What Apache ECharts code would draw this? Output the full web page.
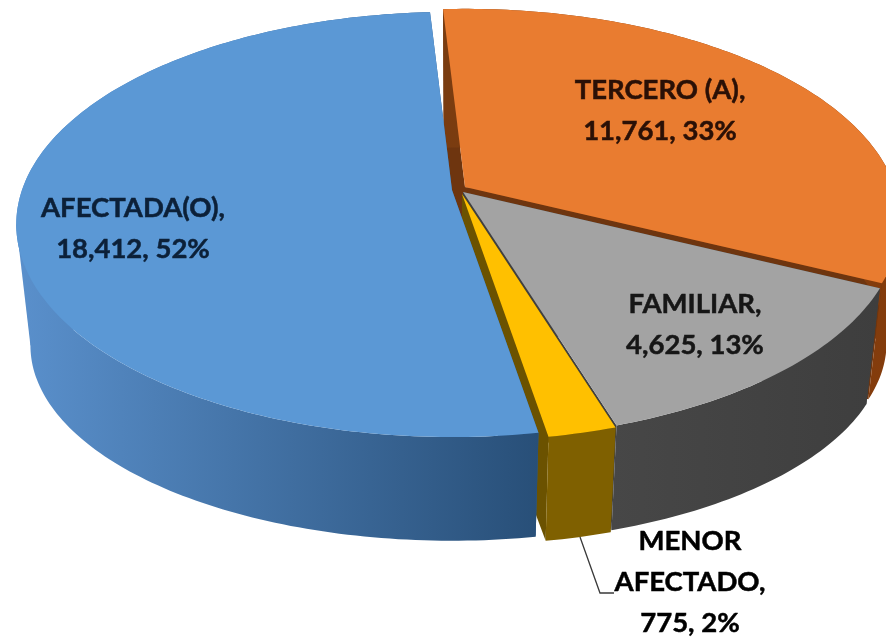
<!DOCTYPE html>
<html>
<head>
<meta charset="utf-8">
<style>html,body{margin:0;background:#fff}#chart{width:886px;height:638px}</style>
<script src="https://cdn.jsdelivr.net/npm/echarts@6/dist/echarts.min.js"></script>
</head>
<body>
<div id="chart"></div>
<script>
// datos
var categories = ['TERCERO (A)', 'FAMILIAR', 'MENOR AFECTADO', 'AFECTADA(O)'];
var values = [11761, 4625, 775, 18412];

// estilos por rebanada
var topColors = ['#E97C30', '#A3A3A3', '#FFC000', '#5B98D5'];
var wallStops = [['#7a3c10', '#843c0c'], ['#474747', '#3e3e3e'], ['#7f6000', '#7f6000'], ['#5a90cc', '#284f78']];
var faceColors = ['#6e350f', '#404040', '#6b5200', '#2f5f90'];
var textColors = ['#2a1006', '#161616', '#000000', '#0c2038'];
var shifts = [[7, -3], [5, 2], [4, 4], [-6, 0]];  // explosion
var labelPos = [[660, 111], [695, 325], [690, 582], [133, 229]];
var labelLines = [['TERCERO (A),'], ['FAMILIAR,'], ['MENOR', 'AFECTADO,'], ['AFECTADA(O),']];

// perspectiva: disco unidad -> pantalla
var startDeg = -3.4;
var cx = 458, k = 0.162;
var topPlane = {a: 430, b: 207, cy: 190};
var botPlane = {a: 416, b: 190, cy: 314};
// angulos donde el disco llega a su extremo lateral
var sideDeg = Math.acos(-k) * 180 / Math.PI;
var sideAngles = [sideDeg, 360 - sideDeg];

function proj(plane, deg, r, shift) {
    var t = deg * Math.PI / 180;
    var u = r * Math.sin(t), v = -r * Math.cos(t);
    var w = 1 - k * v;
    return [cx + plane.a * u / w + shift[0], plane.cy + plane.b * v / w + shift[1]];
}

var total = values.reduce(function (s, v) { return s + v; }, 0);
var angleOf = [];
values.reduce(function (acc, v, i) {
    var next = acc + v / total * 360;
    angleOf[i] = [startDeg + acc, startDeg + next];
    return next;
}, 0);

function arc(plane, from, to, shift) {
    var pts = [], n = Math.max(2, Math.ceil((to - from) / 1));
    for (var i = 0; i <= n; i++) {
        pts.push(proj(plane, from + (to - from) * i / n, 1, shift));
    }
    return pts;
}

function face(deg, s, color) {
    return {
        type: 'polygon',
        shape: {points: [proj(topPlane, deg, 0, s), proj(topPlane, deg, 1, s), proj(botPlane, deg, 1, s), proj(botPlane, deg, 0, s)]},
        style: {fill: color}
    };
}

function renderWalls(params) {
    var i = params.dataIndex, s = shifts[i], a = angleOf[i];
    var up = arc(topPlane, a[0], a[1], s), down = arc(botPlane, a[0], a[1], s);
    var xs = up.concat(down).map(function (p) { return p[0]; });
    // gradiente comun a toda la pared, en coordenadas de pantalla
    var fill = new echarts.graphic.LinearGradient(Math.min.apply(null, xs), 0, Math.max.apply(null, xs), 0, [
        {offset: 0, color: wallStops[i][0]},
        {offset: 1, color: wallStops[i][1]}
    ], true);
    var kids = [];
    // relleno de la silueta lateral entre los dos planos
    sideAngles.forEach(function (deg) {
        if (deg > a[0] && deg < a[1]) {
            kids.push({
                type: 'polygon',
                shape: {points: [proj(topPlane, deg, 1, s), proj(botPlane, deg, 1, s), proj(topPlane, deg, 0, s)]},
                style: {fill: fill}
            });
        }
    });
    kids.push(face(a[0], s, faceColors[i]));
    kids.push(face(a[1], s, faceColors[i]));
    kids.push({type: 'polygon', shape: {points: up.concat(down.slice().reverse())}, style: {fill: fill}});
    return {type: 'group', children: kids};
}

function renderTops(params, api) {
    var i = params.dataIndex, s = shifts[i], a = angleOf[i];
    var val = api.value(0);
    var txt = labelLines[i].concat([val.toLocaleString('en-US') + ', ' + Math.round(val / total * 100) + '%']).join('\n');
    var kids = [{
        type: 'polygon',
        shape: {points: [proj(topPlane, 0, 0, s)].concat(arc(topPlane, a[0], a[1], s))},
        style: {fill: topColors[i]}
    }];
    if (i === 2) {
        // linea guia de MENOR AFECTADO
        kids.push({
            type: 'polyline',
            shape: {points: [[580, 537], [600, 593], [614, 593]]},
            style: {stroke: '#3a3a3a', lineWidth: 1.3, fill: null}
        });
    }
    kids.push({
        type: 'text',
        z2: 10,
        style: {
            text: txt,
            x: labelPos[i][0],
            y: labelPos[i][1],
            align: 'center',
            verticalAlign: 'middle',
            lineHeight: 41,
            font: 'bold 27.5px Lato',
            fill: textColors[i],
            stroke: textColors[i],
            lineWidth: 0.5
        }
    });
    return {type: 'group', children: kids};
}

var data = values.map(function (v, i) { return {name: categories[i], value: [v]}; });
var myChart = echarts.init(document.getElementById('chart'));
myChart.setOption({
    animation: false,
    tooltip: {show: false},
    series: [
        {type: 'custom', coordinateSystem: 'none', silent: true, z: 1, renderItem: renderWalls, data: data},
        {type: 'custom', coordinateSystem: 'none', silent: true, z: 2, renderItem: renderTops, data: data}
    ]
});
</script>
</body>
</html>
